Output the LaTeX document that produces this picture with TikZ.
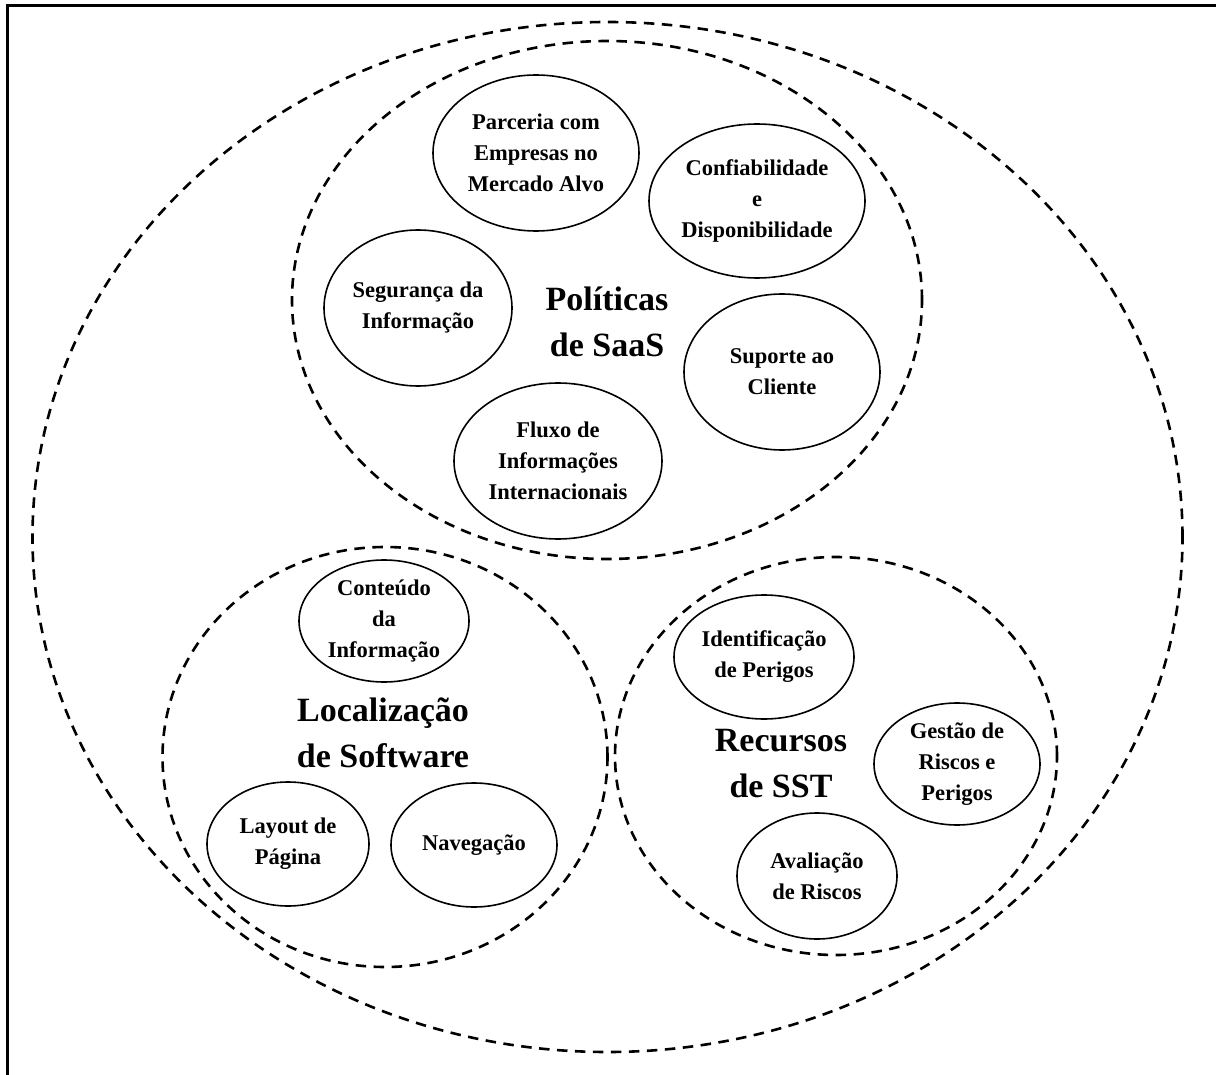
\documentclass[tikz,border=0pt]{standalone}
\usepackage{fontspec}
\setmainfont{Liberation Serif}
\usetikzlibrary{shapes.geometric}
\begin{document}
\begin{tikzpicture}[x=1pt,y=-1pt,
  dashell/.style={draw, ellipse, line width=2.6pt, dash pattern=on 10.5pt off 7.5pt, inner sep=0pt},
  solell/.style={draw, ellipse, line width=1.6pt, inner sep=0pt},
  smalltxt/.style={align=center, inner sep=0pt, font=\fontsize{22.5}{31}\selectfont\bfseries},
  bigtxt/.style={align=center, inner sep=0pt, font=\fontsize{34}{46}\selectfont\bfseries}]
\useasboundingbox (0,0) rectangle (1216,1075);
\fill[white] (0,0) rectangle (1216,1075);
% frame
\draw[line width=3pt] (7,1090) -- (7,6) -- (1230,6);
% big dashed ellipses
\node[dashell, minimum width=1150pt, minimum height=1030pt] (outer) at (607.5,537) {};
\node[dashell, minimum width=630pt, minimum height=518pt] (saas) at (607,300) {};
\node[dashell, minimum width=445pt, minimum height=420pt] (loc) at (385,757) {};
\node[dashell, minimum width=442pt, minimum height=398pt] (sst) at (836,756) {};
% group labels
\node[bigtxt] (saaslbl) at (607,322) {Políticas\\de SaaS};
\node[bigtxt] (loclbl) at (383,733) {Localização\\de Software};
\node[bigtxt] (sstlbl) at (781,764) {Recursos\\de SST};
% small ellipses - SaaS
\node[solell, minimum width=206pt, minimum height=156pt] (parc) at (536,153) {};
\node[smalltxt] at (parc.center) {Parceria com\\Empresas no\\Mercado Alvo};
\node[solell, minimum width=216pt, minimum height=154pt] (conf) at (757,201) {};
\node[smalltxt] at (conf.center) {Confiabilidade\\e\\Disponibilidade};
\node[solell, minimum width=188pt, minimum height=156pt] (seg) at (418,308) {};
\node[smalltxt] at (seg.center) {Segurança da\\Informação};
\node[solell, minimum width=196pt, minimum height=156pt] (sup) at (782,372) {};
\node[smalltxt] at (sup.center) {Suporte ao\\Cliente};
\node[solell, minimum width=208pt, minimum height=156pt] (flux) at (558,461) {};
\node[smalltxt] at (flux.center) {Fluxo de\\Informações\\Internacionais};
% small ellipses - Localização
\node[solell, minimum width=170pt, minimum height=122pt] (cont) at (384,621) {};
\node[smalltxt] at (cont.center) {Conteúdo\\da\\Informação};
\node[solell, minimum width=162pt, minimum height=124pt] (lay) at (288,844) {};
\node[smalltxt] at (lay.center) {Layout de\\Página};
\node[solell, minimum width=166pt, minimum height=124pt] (nav) at (474,845) {};
\node[smalltxt] at (nav.center) {Navegação};
% small ellipses - SST
\node[solell, minimum width=180pt, minimum height=124pt] (iden) at (764,657) {};
\node[smalltxt] at (iden.center) {Identificação\\de Perigos};
\node[solell, minimum width=166pt, minimum height=122pt] (gest) at (957,764) {};
\node[smalltxt] at (gest.center) {Gestão de\\Riscos e\\Perigos};
\node[solell, minimum width=160pt, minimum height=126pt] (aval) at (817,876) {};
\node[smalltxt] at (aval.center) {Avaliação\\de Riscos};
\end{tikzpicture}
\end{document}
